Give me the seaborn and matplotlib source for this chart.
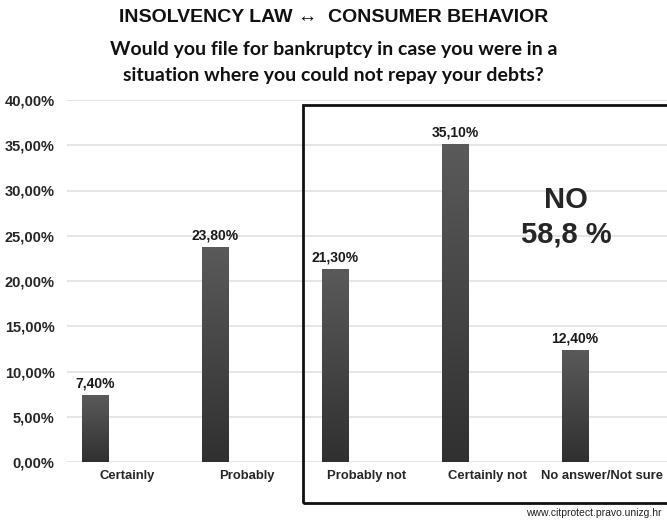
import numpy as np
import pandas as pd
import matplotlib
matplotlib.use("Agg")
import matplotlib.pyplot as plt
from matplotlib.patches import Rectangle
import seaborn as sns

categories = ["Certainly", "Probably", "Probably not", "Certainly not", "No answer/Not sure"]
shares = [7.40, 23.80, 21.30, 35.10, 12.40]
y_ticks = [0, 5, 10, 15, 20, 25, 30, 35, 40]
no_total = "58,8"

# bars sit left of the centre of each category slot
bar_shift = -0.267
slots = np.arange(len(categories))
df = pd.DataFrame({"pos": slots + bar_shift, "share": shares})

sns.set_theme(style="white")
plt.rcParams["font.family"] = ["Liberation Sans", "DejaVu Sans"]

W, H = 667, 521
fig = plt.figure(figsize=(W / 100, H / 100), dpi=100)
ax = fig.add_axes([67 / W, (H - 462) / H, 1 - 67 / W, (462 - 100) / H])

sns.barplot(data=df, x="pos", y="share", ax=ax, native_scale=True, width=0.22,
            color="#444444", saturation=1, edgecolor="#2a2a2a", linewidth=0.6)

# vertical gradient inside each bar
grad = np.linspace(0, 1, 256).reshape(-1, 1)
cmap = matplotlib.colors.LinearSegmentedColormap.from_list("g", ["#303030", "#5a5a5a"])
for p in ax.patches:
    x0, w, h = p.get_x(), p.get_width(), p.get_height()
    im = ax.imshow(grad, cmap=cmap, extent=[x0, x0 + w, 0, h], origin="lower",
                   aspect="auto", zorder=p.get_zorder() + 0.1)
    im.set_clip_path(p)

ax.set_xlim(-0.5, 4.5)
ax.set_ylim(0, 40)
# last label nudged left so it stays inside the figure
tick_pos = [0, 1, 2, 3, 3.96]
ax.set_xticks(tick_pos)
ax.set_xticklabels(categories, fontsize=9.4, fontweight="bold")
ax.set_yticks(y_ticks)
ax.set_yticklabels([f"{v:.2f}".replace(".", ",") + "%" for v in y_ticks],
                   fontsize=10.5, fontweight="bold")
ax.tick_params(axis="y", length=0, pad=9)
ax.tick_params(axis="x", length=0, pad=6)
ax.set_xlabel("")
ax.set_ylabel("")
ax.yaxis.grid(True, color="#e2e2e2", linewidth=1.2)
ax.xaxis.grid(False)
ax.set_axisbelow(True)
for s in ax.spines.values():
    s.set_visible(False)

for x, v in zip(df["pos"], shares):
    ax.text(x, v + 0.5, f"{v:.2f}".replace(".", ",") + "%", ha="center", va="bottom",
            fontsize=10, fontweight="bold", color="#1a1a1a")

ax.text(3.66, 28.9, "NO", ha="center", va="center", fontsize=21, fontweight="bold")
ax.text(3.66, 25.1, f"{no_total} %", ha="center", va="center", fontsize=21, fontweight="bold")

# frame around the negative answers
fig.add_artist(Rectangle((303 / W, (H - 503) / H), 1.0, (503 - 105) / H,
                         transform=fig.transFigure, fill=False,
                         edgecolor="#111111", linewidth=2))

fig.text(0.5, 1 - 18 / H, "INSOLVENCY LAW \u2194  CONSUMER BEHAVIOR", ha="center", va="center",
         fontsize=14, fontweight="bold", color="#111111")
fig.text(0.5, 1 - 50 / H, "Would you file for bankruptcy in case you were in a",
         ha="center", va="center", fontsize=14, fontweight="bold", family="Lato", color="#111111")
fig.text(0.5, 1 - 76 / H, "situation where you could not repay your debts?",
         ha="center", va="center", fontsize=14, fontweight="bold", family="Lato", color="#111111")

fig.text(662 / W, 1 - 513 / H, "www.citprotect.pravo.unizg.hr", ha="right", va="center",
         fontsize=7.5, color="#222222")

fig.savefig("out.png", dpi=100)
